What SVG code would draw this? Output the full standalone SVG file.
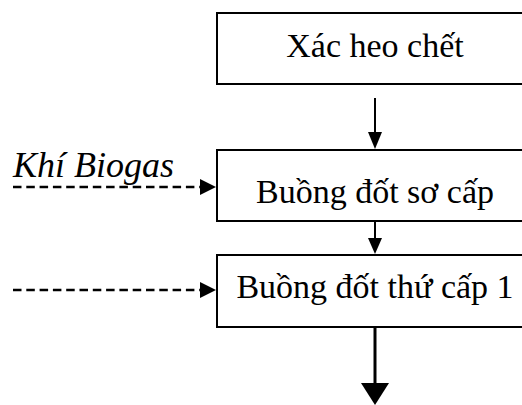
<svg xmlns="http://www.w3.org/2000/svg" width="522" height="405" viewBox="0 0 522 405">
  <style>
    .box { fill: #fff; stroke: #000; stroke-width: 2; }
    .lbl { font-family: "Liberation Serif", "Times New Roman", serif; font-size: 34px; fill: #000; text-anchor: middle; }
    .side { font-family: "Liberation Serif", "Times New Roman", serif; font-size: 36px; font-style: italic; fill: #000; }
    .flow { stroke: #000; stroke-width: 2; fill: none; }
    .dash { stroke: #000; stroke-width: 2.7; fill: none; stroke-dasharray: 8.5 4.8; }
  </style>
  <rect width="522" height="405" fill="#fff"/>

  <g id="node-xac-heo">
    <rect class="box" x="217" y="13" width="316" height="71"/>
    <text class="lbl" x="375" y="57">Xác heo chết</text>
  </g>

  <g id="node-buong-so-cap">
    <rect class="box" x="217" y="150" width="316" height="71"/>
    <text class="lbl" x="375" y="203">Buồng đốt sơ cấp</text>
  </g>

  <g id="node-buong-thu-cap">
    <rect class="box" x="217" y="255" width="316" height="72"/>
    <text class="lbl" x="375" y="298">Buồng đốt thứ cấp 1</text>
  </g>

  <g id="label-biogas">
    <text class="side" x="13" y="177">Khí Biogas</text>
  </g>

  <g id="connectors">
    <line class="flow" x1="375" y1="98" x2="375" y2="134"/>
    <polygon points="368,132 382,132 375,149" fill="#000"/>

    <line class="flow" x1="375" y1="221" x2="375" y2="240"/>
    <polygon points="368,238 382,238 375,254" fill="#000"/>

    <line class="flow" x1="375" y1="327" x2="375" y2="386" style="stroke-width:3"/>
    <polygon points="361,383 389,383 375,405" fill="#000"/>

    <line class="dash" x1="13" y1="187" x2="200" y2="187"/>
    <polygon points="200,179 216,187 200,195" fill="#000"/>

    <line class="dash" x1="13" y1="290" x2="200" y2="290"/>
    <polygon points="200,282 216,290 200,298" fill="#000"/>
  </g>
</svg>
